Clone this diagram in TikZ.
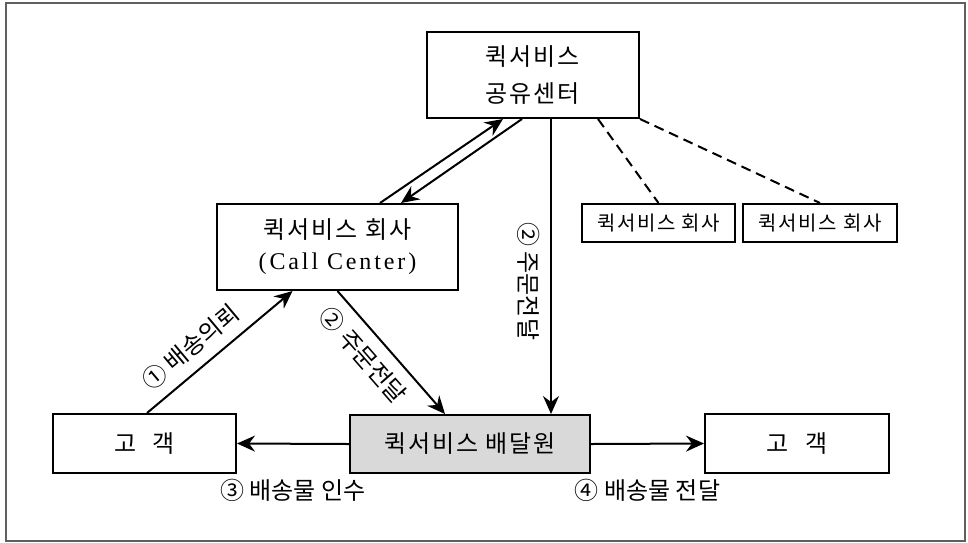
\documentclass[tikz,border=0pt]{standalone}
\usepackage{fontspec}
\setmainfont{Noto Sans CJK KR}[LetterSpace=8]
\newfontfamily\labelfont{Noto Sans CJK KR}
\newfontfamily\latinfont{Liberation Serif}[LetterSpace=12]
\usepackage{tikz}
\usetikzlibrary{arrows.meta}

\begin{document}
\begin{tikzpicture}[x=0.5pt,y=-0.5pt,
  box/.style={draw,line width=1pt,inner sep=0pt,align=center,font=\fontsize{12}{15.5}\selectfont},
  smallbox/.style={draw,line width=1pt,inner sep=0pt,minimum width=76.5pt,minimum height=19pt,font=\fontsize{10}{12}\selectfont},
  lbl/.style={font=\labelfont\fontsize{12}{13}\selectfont},
  link/.style={line width=1pt,-{Stealth[length=9pt,width=8pt,inset=3pt]}},
  link dash/.style={line width=1pt,dashed,dash pattern=on 5pt off 3pt}]
\useasboundingbox (0,0) rectangle (968,542);
\definecolor{frameColor}{RGB}{95,95,95}
\definecolor{riderColor}{RGB}{217,217,217}
\draw[color=frameColor, line width=1pt] (6,3) rectangle (965,541);
\node[box, minimum width=106pt, minimum height=43pt, font=\fontsize{12}{18.5}\selectfont] (share) at (533,75) {퀵서비스\\공유센터};
\node[box, minimum width=120.5pt, minimum height=43pt] (callc) at (337.5,247) {퀵서비스 회사\\{\latinfont (Call Center)}};
\node[smallbox] (firmA) at (658.5,223) {퀵서비스 회사};
\node[smallbox, minimum width=77pt] (firmB) at (820,223) {퀵서비스 회사};
\node[box, minimum width=91.5pt, minimum height=29.5pt] (custL) at (144.5,443.5) {고\hspace{0.7em}객};
\node[box, minimum width=120pt, minimum height=29pt, fill=riderColor] (rider) at (470,444) {퀵서비스 배달원};
\node[box, minimum width=92pt, minimum height=29.5pt] (custR) at (797,443.5) {고\hspace{0.7em}객};
\coordinate (drop) at ([xshift=9pt]share.south);
\draw[link] ([xshift=1.25pt]custL.north) -- node[lbl, sloped, above=2pt, pos=0.4] {① 배송의뢰} ([xshift=-22.5pt]callc.south);
\draw[link] (callc.south) -- node[lbl, sloped, below=2pt, pos=0.4] {② 주문전달} ([xshift=-12.5pt]rider.north);
\draw[link] ([xshift=21.25pt]callc.north) -- ([xshift=-15pt]share.south);
\draw[link] ([xshift=-5.5pt]share.south) -- ([xshift=31.75pt]callc.north);
\draw[link] (drop) -- node[lbl, sloped, below=2pt, pos=0.55] {② 주문전달} (drop |- rider.north);
\draw[link dash] ([xshift=32.5pt]share.south) -- (firmA.north);
\draw[link dash] (share.south east) -- (firmB.north);
\draw[link] (rider.west) -- node[lbl, below=14pt, midway] {③ 배송물 인수} (custL.east);
\draw[link] (rider.east) -- node[lbl, below=14pt, midway] {④ 배송물 전달} (custR.west);
\end{tikzpicture}
\end{document}
